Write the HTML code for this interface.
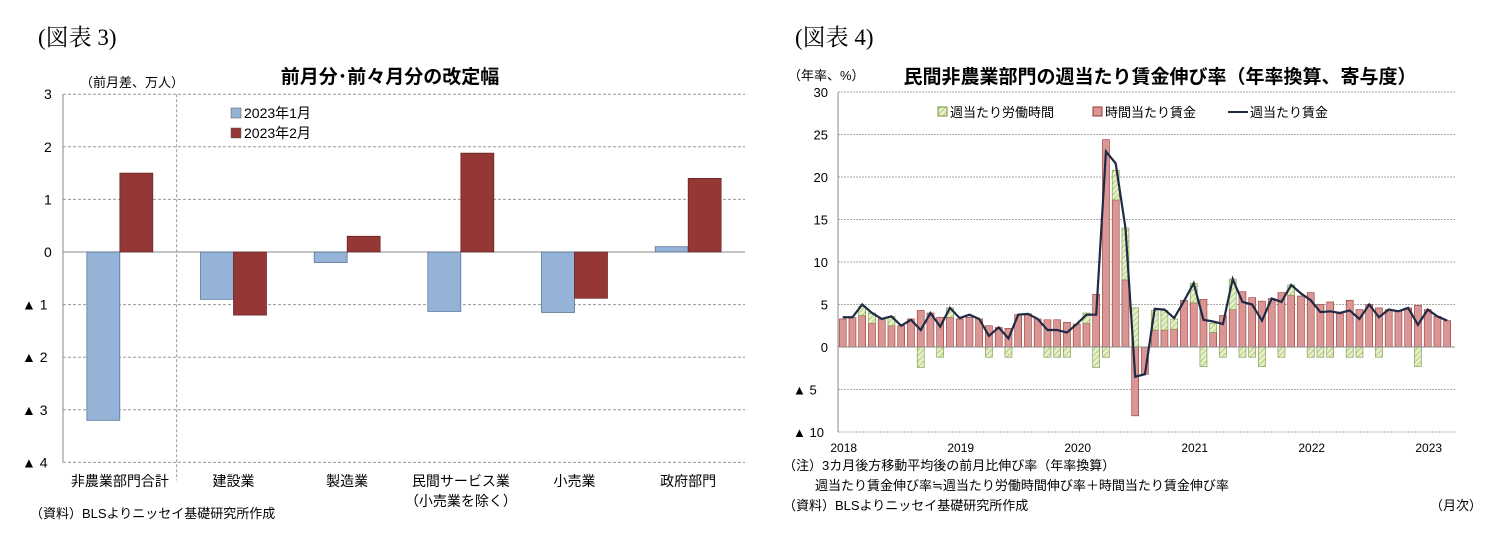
<!DOCTYPE html>
<html><head><meta charset="utf-8"><style>
html,body{margin:0;padding:0;background:#fff;}
svg text{font-family:"Liberation Sans","Noto Sans CJK JP",sans-serif;fill:#000;}
svg text.serif{font-family:"Liberation Serif","Noto Serif CJK SC",serif;}
</style></head><body>
<svg id="s" width="1500" height="548" xmlns="http://www.w3.org/2000/svg">
<defs><pattern id="hatch" width="4" height="4" patternUnits="userSpaceOnUse" patternTransform="rotate(45)"><rect width="4" height="4" fill="#e6f0c8"/><line x1="0" y1="0" x2="0" y2="4" stroke="#b5cc84" stroke-width="2"/></pattern></defs>
<text class="serif" x="38" y="45" font-size="23">(図表 3)</text>
<text class="serif" x="795" y="45" font-size="23">(図表 4)</text>
<text x="390" y="83" font-size="19" font-weight="bold" text-anchor="middle">前月分･前々月分の改定幅</text>
<text x="80" y="87" font-size="13">（前月差、万人）</text>
<g id="L"></g>
<g id="R"></g>
<text x="30" y="518" font-size="13">（資料）BLSよりニッセイ基礎研究所作成</text>
<text x="788" y="80" font-size="13">（年率、%）</text>
<text x="1160" y="83" font-size="19" font-weight="bold" text-anchor="middle">民間非農業部門の週当たり賃金伸び率（年率換算、寄与度）</text>
<text x="783" y="470" font-size="13">（注）3カ月後方移動平均後の前月比伸び率（年率換算）</text>
<text x="815" y="490" font-size="13">週当たり賃金伸び率≒週当たり労働時間伸び率＋時間当たり賃金伸び率</text>
<text x="783" y="510" font-size="13">（資料）BLSよりニッセイ基礎研究所作成</text>
<text x="1430" y="510" font-size="13">（月次）</text>
</svg>
<script>
const catsL=["非農業部門合計","建設業","製造業","民間サービス業","小売業","政府部門"];
const janL=[-3.2,-0.9,-0.2,-1.13,-1.15,0.1];
const febL=[1.5,-1.2,0.3,1.88,-0.88,1.4];
const ticksL=[3,2,1,0,-1,-2,-3,-4];
const hours=[0,0,1.1,1.2,0,1.1,0,0,-2.4,0,-1.2,1.1,0,0,0,-1.2,0,-1.2,0,0,0,-1.2,-1.2,-1.2,0,1.2,-2.4,-1.2,3.5,6.1,4.6,0,2.3,2.3,1.2,0,2.3,-2.3,1.1,-1.2,3.6,-1.2,-1.2,-2.3,0,-1.2,1.2,0,-1.2,-1.2,-1.2,0,-1.2,-1.2,0,-1.2,0,0,0,-2.3,0,0,0];
const hourly=[3.3,3.45,3.7,2.8,3.3,2.5,2.5,3.3,4.3,4.0,3.5,3.5,3.3,3.5,3.3,2.5,2.3,2.2,3.8,3.9,3.3,3.2,3.2,2.9,2.7,2.8,6.2,24.4,17.3,7.9,-8.1,-3.2,2.0,2.0,2.1,5.5,5.2,5.6,1.7,3.7,4.4,6.5,5.8,5.4,5.7,6.4,6.1,6.0,6.4,5.0,5.3,3.9,5.5,4.4,5.0,4.6,4.4,4.2,4.6,4.9,4.4,3.6,3.1];
const weekly=[3.5,3.5,5.0,4.0,3.3,3.6,2.5,3.2,2.0,4.0,2.4,4.6,3.4,3.8,3.3,1.3,2.3,1.0,3.8,3.9,3.3,2.0,2.0,1.7,2.7,3.8,3.8,23.0,21.6,14.0,-3.5,-3.2,4.5,4.4,3.4,5.4,7.5,3.2,3.0,2.7,8.0,5.3,5.0,3.1,5.7,5.3,7.3,6.3,5.5,4.1,4.2,4.0,4.3,3.3,5.0,3.5,4.4,4.2,4.6,2.6,4.4,3.6,3.1];
const ticksR=[30,25,20,15,10,5,0,-5,-10];
const yearsR=["2018","2019","2020","2021","2022","2023"];
const NS="http://www.w3.org/2000/svg";
function mk(p,t,a,txt){const e=document.createElementNS(NS,t);for(const k in a)e.setAttribute(k,a[k]);if(txt!=null)e.textContent=txt;p.appendChild(e);return e;}
function fmt(v){return v<0?"▲ "+(-v):""+v;}
// left
const L=document.getElementById('L');
const lx0=63,lx1=745,yL=v=>252-v*52.6,cw=(lx1-lx0)/catsL.length,cx=i=>lx0+cw*(i+0.5);
ticksL.forEach(t=>{
 const g=mk(L,'line',{x1:lx0,x2:lx1,y1:yL(t),y2:yL(t),stroke:t==0?'#888':'#999','stroke-dasharray':t==0?'':'3,2'});
 
 
 const tx=mk(L,'text',{x:t<0?22:44,y:yL(t)+5,'font-size':14},fmt(t));
 
 
});
let a=mk(L,'line',{x1:lx0,x2:lx0,y1:yL(3),y2:yL(-4),stroke:'#888'});


a=mk(L,'line',{x1:lx0+cw,x2:lx0+cw,y1:yL(3),y2:yL(-4)+18,stroke:'#999','stroke-dasharray':'3,2'});


catsL.forEach((c,i)=>{
 const b1=mk(L,'rect',{x:cx(i)-33,width:33,y:Math.min(yL(0),yL(janL[i])),height:Math.abs(yL(janL[i])-yL(0)),fill:'#95b3d7',stroke:'#4f6a8f','stroke-width':0.7});
 
 
 const b2=mk(L,'rect',{x:cx(i),width:33,y:Math.min(yL(0),yL(febL[i])),height:Math.abs(yL(febL[i])-yL(0)),fill:'#953735',stroke:'#632523','stroke-width':0.7});
 
 
 const t=mk(L,'text',{x:cx(i),y:486,'font-size':14,'text-anchor':'middle'},c);
 
 
});
a=mk(L,'text',{x:cx(3),y:506,'font-size':14,'text-anchor':'middle'},'（小売業を除く）');


[["#95b3d7","2023年1月",118],["#953735","2023年2月",138]].forEach(l=>{
 const r=mk(L,'rect',{x:231,y:l[2]-10,width:10,height:10,fill:l[0],stroke:'#555','stroke-width':0.5});
 
 
 const t=mk(L,'text',{x:244,y:l[2],'font-size':14},l[1]);
 
 
});
// right
const R=document.getElementById('R');
const rx0=838,rx1=1455,yR=v=>347-v*8.5,xR=i=>842.7+i*9.75;
ticksR.forEach(t=>{
 if(t!=0){const g=mk(R,'line',{x1:rx0,x2:rx1,y1:yR(t),y2:yR(t),stroke:'#aaa','stroke-dasharray':'2,1'});
 
 }
 const tx=mk(R,'text',{x:t<0?793:828,y:yR(t)+5,'font-size':13,'text-anchor':t<0?'start':'end'},fmt(t));
 
 
});
yearsR.forEach((y,k)=>{
 const t=mk(R,'text',{x:xR(k*12)+1,y:452,'font-size':12,'text-anchor':'middle'},y);
 
 
});
hourly.forEach((v,i)=>{
 const h=hours[i],x=xR(i)-3.5;
 const r=mk(R,'rect',{x:x,width:7,y:Math.min(yR(0),yR(v)),height:Math.abs(yR(v)-yR(0)),fill:'#da9694',stroke:'#953735','stroke-width':0.6});
 
 
 if(h!==0){const base=(h>0&&v>0)?v:0;
  const g=mk(R,'rect',{x:x,width:7,y:Math.min(yR(base),yR(base+h)),height:Math.abs(h)*8.5,fill:'url(#hatch)',stroke:'#77933c','stroke-width':0.6});
  
  }
});
a=mk(R,'line',{x1:rx0,x2:rx1,y1:yR(0),y2:yR(0),stroke:'#888'});


a=mk(R,'line',{x1:rx0,x2:rx0,y1:yR(30),y2:yR(-10),stroke:'#888'});


const ln=mk(R,'polyline',{points:weekly.map((v,i)=>xR(i)+','+yR(v)).join(' '),fill:'none',stroke:'#1f2a44','stroke-width':2.2});


a=mk(R,'rect',{x:938,y:107,width:9,height:9,fill:'url(#hatch)',stroke:'#77933c'});


a=mk(R,'text',{x:950,y:117,'font-size':13},'週当たり労働時間');


a=mk(R,'rect',{x:1093,y:107,width:9,height:9,fill:'#da9694',stroke:'#953735'});


a=mk(R,'text',{x:1105,y:117,'font-size':13},'時間当たり賃金');


a=mk(R,'line',{x1:1228,x2:1248,y1:112,y2:112,stroke:'#1f2a44','stroke-width':2});


a=mk(R,'text',{x:1250,y:117,'font-size':13},'週当たり賃金');


</script>
</body></html>
